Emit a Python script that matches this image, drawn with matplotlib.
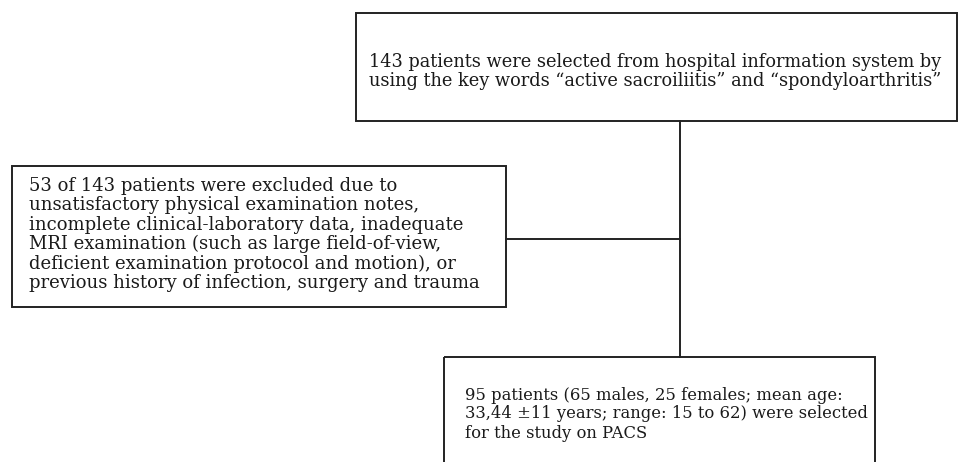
import matplotlib
matplotlib.use("Agg")
import matplotlib.pyplot as plt
from matplotlib.patches import Rectangle

# Data: box texts
top_text = ["143 patients were selected from hospital information system by",
            "using the key words \u201cactive sacroiliitis\u201d and \u201cspondyloarthritis\u201d"]
excl_text = ["53 of 143 patients were excluded due to",
             "unsatisfactory physical examination notes,",
             "incomplete clinical-laboratory data, inadequate",
             "MRI examination (such as large field-of-view,",
             "deficient examination protocol and motion), or",
             "previous history of infection, surgery and trauma"]
final_text = ["95 patients (65 males, 25 females; mean age:",
              "33,44 \u00b111 years; range: 15 to 62) were selected",
              "for the study on PACS"]

W, H = 960, 462
fig = plt.figure(figsize=(W / 100, H / 100), dpi=100)
ax = fig.add_axes([0, 0, 1, 1])
ax.set_xlim(0, W)
ax.set_ylim(H, 0)
ax.axis("off")

lw = 1.4
col = "#222222"

def box(x0, y0, x1, y1):
    ax.add_patch(Rectangle((x0, y0), x1 - x0, y1 - y0, fill=False,
                           edgecolor=col, linewidth=lw, clip_on=False))

def lines(x, y, txts, dy, size):
    for i, t in enumerate(txts):
        ax.text(x, y + i * dy, t, va="center", ha="left",
                family="DejaVu Serif", fontsize=size, color="#1a1a1a")

# top box
box(356, 13, 957, 121)
lines(369, 62, top_text, 19.5, 12.75)
# exclusion box
box(12, 166, 506, 307)
lines(29, 186, excl_text, 19.4, 13.0)
# final box
box(444, 357, 875, 470)
lines(465, 395, final_text, 19, 11.8)

# connectors
ax.plot([680, 680], [121, 357], color=col, lw=lw)
ax.plot([506, 680], [239, 239], color=col, lw=lw)

fig.savefig("out.png", dpi=100)
